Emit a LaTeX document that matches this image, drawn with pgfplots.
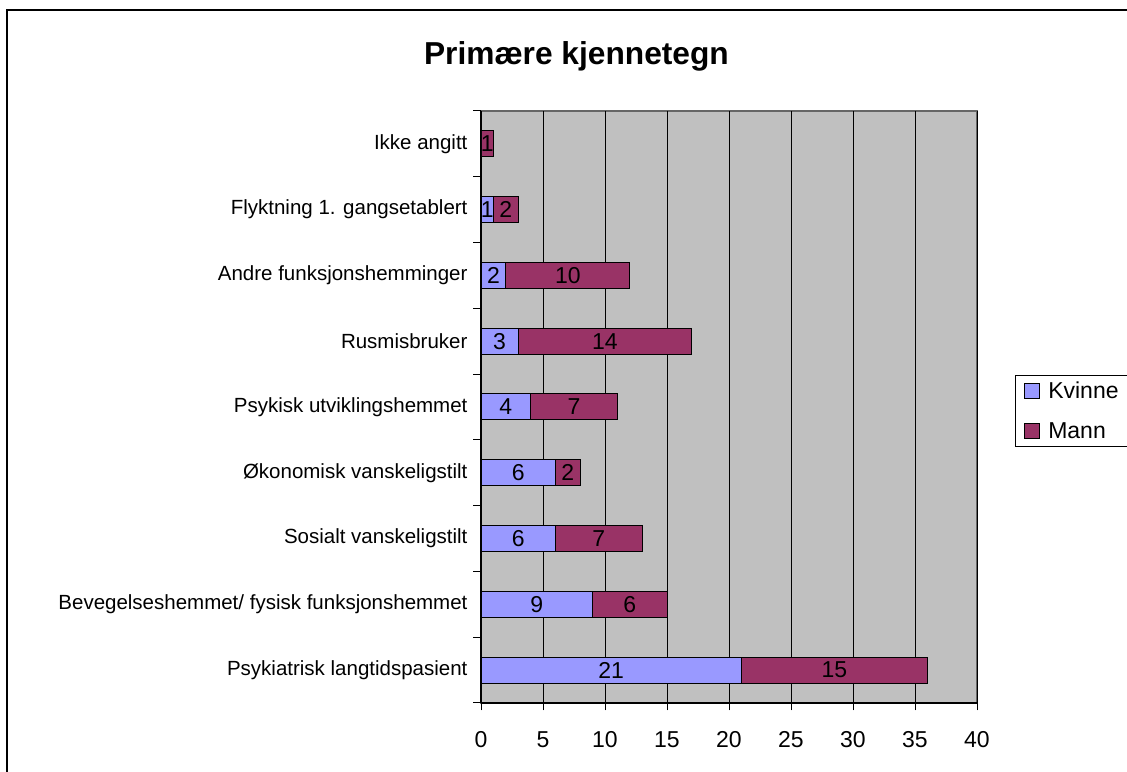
\documentclass[border=0pt]{standalone}
\usepackage{fontspec}
\setmainfont{Liberation Sans}
\usepackage{pgfplots}
\pgfplotsset{compat=1.18}
\usepackage{pgfplotstable}
\definecolor{kv}{HTML}{9999FF}
\definecolor{ma}{HTML}{993366}
\definecolor{bg}{HTML}{C0C0C0}

\pgfplotstableread{
pos k m
0 21 15
1 9 6
2 6 7
3 6 2
4 4 7
5 3 14
6 2 10
7 1 2
8 0 1
}\datatable

\begin{document}
\begin{tikzpicture}[x=1pt,y=1pt]
\useasboundingbox (0,0) rectangle (1127,771);
\draw[line width=2pt] (7,761) rectangle (1140,-10);
\begin{axis}[
  at={(481pt,68pt)}, anchor=south west, scale only axis,
  width=496pt, height=592pt,
  xmin=0, xmax=40, ymin=-0.5, ymax=8.5,
  axis x line*=bottom, axis y line*=left,
  axis line style={-, line width=1.3pt, black},
  axis background/.style={fill=bg, draw=gray!80!black, line width=1.3pt},
  /pgf/number format/assume math mode=true,
  xtick={0,5,...,40}, xmajorgrids, grid style={black, line width=1pt},
  ytick={-0.5,0.5,...,8.5}, yticklabels={},
  extra y ticks={0,1,2,3,4,5,6,7,8},
  extra y tick labels={Psykiatrisk langtidspasient, Bevegelseshemmet/ fysisk funksjonshemmet, Sosialt vanskeligstilt, Økonomisk vanskeligstilt, Psykisk utviklingshemmet, Rusmisbruker, Andre funksjonshemminger, Flyktning 1. gangsetablert, Ikke angitt},
  extra y tick style={major tick length=0pt},
  tick align=outside, major tick length=7.5pt, tick style={black, line width=1pt},
  xticklabel style={font=\fontsize{23}{26}\selectfont, text height=16.5pt, text depth=0pt, yshift=-17pt},
  yticklabel style={font=\fontsize{20.5}{24}\selectfont, xshift=-10pt},
  title={Primære kjennetegn},
  title style={at={(axis description cs:0.1925,1.0676)}, anchor=base, font=\bfseries\fontsize{31.7}{36}\selectfont},
  legend image code/.code={\draw[#1, draw=black, line width=0.8pt] (0pt,-7.5pt) rectangle (15pt,7.5pt);},
  legend style={at={(axis description cs:1.0766,0.4324)}, anchor=south west, draw=black, line width=1pt, fill=white, font=\fontsize{23}{26}\selectfont, inner xsep=9pt, inner ysep=5pt, row sep=18pt, /tikz/every odd column/.append style={column sep=6pt}},
  legend cell align=left,
  every node near coord/.append style={anchor=center, font=\fontsize{23}{26}\selectfont, text=black},
]
\addlegendimage{fill=kv}\addlegendentry{Kvinne}
\addlegendimage{fill=ma}\addlegendentry{Mann}
\addplot[xbar, bar width=26pt, fill=ma, draw=black, line width=1pt, forget plot]
  table[x expr=\thisrow{k}+\thisrow{m}, y=pos]{\datatable};
\addplot[xbar, bar width=26pt, fill=kv, draw=black, line width=1pt, forget plot]
  table[x=k, y=pos]{\datatable};
\addplot[draw=none, mark=none, forget plot, nodes near coords, point meta=explicit,
  restrict x to domain=0.1:100]
  table[x expr=\thisrow{k}/2, y=pos, meta=k]{\datatable};
\addplot[draw=none, mark=none, forget plot, nodes near coords, point meta=explicit]
  table[x expr=\thisrow{k}+\thisrow{m}/2, y=pos, meta=m]{\datatable};
\end{axis}
\end{tikzpicture}
\end{document}
